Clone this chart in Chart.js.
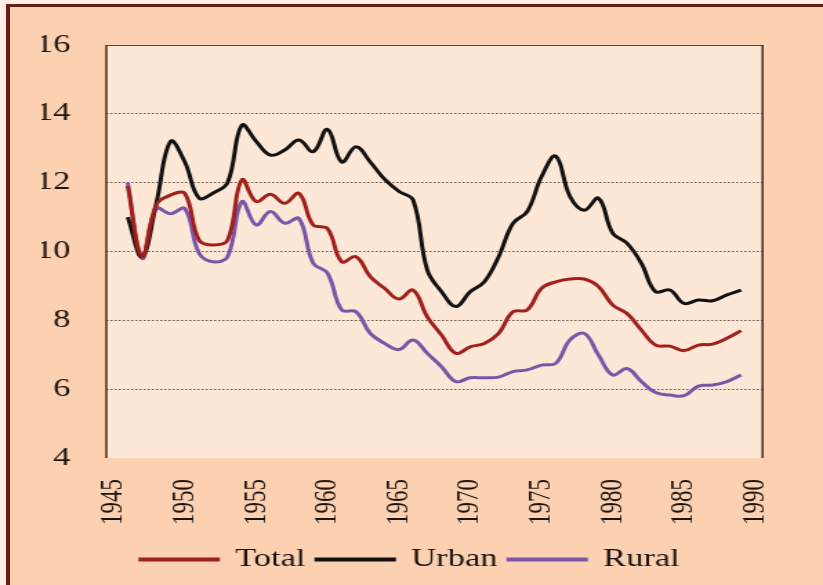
<!DOCTYPE html>
<html>
<head>
<meta charset="utf-8">
<script src="https://cdn.jsdelivr.net/npm/chart.js@4/dist/chart.umd.min.js"></script>
<style>
    body { margin: 0; background: #fdeee8; overflow: hidden; }
    #moldura {
        position: absolute; left: 6px; top: 4px; width: 830px; height: 600px;
        border-left: 4px solid #6b1d15; border-top: 3px solid #6b1d15;
        background: #fcd1b2;
    }
    /* the original picture is stretched sideways, so the chart is too */
    #caixa {
        position: absolute; left: 0; top: 0; width: 596px; height: 585px;
        transform: scaleX(1.3809); transform-origin: 0 0;
    }
</style>
</head>
<body>
<div id="moldura"></div>
<div id="caixa"><canvas id="graficoTaxas" width="596" height="585"></canvas></div>
<script>
const years = [1945, 1946, 1947, 1948, 1949, 1950, 1951, 1952, 1953, 1954,
    1955, 1956, 1957, 1958, 1959, 1960, 1961, 1962, 1963, 1964,
    1965, 1966, 1967, 1968, 1969, 1970, 1971, 1972, 1973, 1974,
    1975, 1976, 1977, 1978, 1979, 1980, 1981, 1982, 1983, 1984,
    1985, 1986, 1987, 1988, 1989, 1990];

const total = [null, 11.9, 9.85, 11.35, 11.64, 11.69, 10.33, 10.19, 10.33, 12.08,
    11.45, 11.66, 11.4, 11.69, 10.77, 10.67, 9.7, 9.85, 9.27, 8.93,
    8.62, 8.88, 8.1, 7.57, 7.04, 7.23, 7.33, 7.62, 8.25, 8.3,
    8.93, 9.12, 9.2, 9.2, 8.98, 8.44, 8.2, 7.72, 7.28, 7.25,
    7.12, 7.28, 7.31, 7.48, 7.7, null];

const urban = [null, 11.0, 9.85, 11.4, 13.2, 12.6, 11.55, 11.7, 12.0, 13.67,
    13.2, 12.8, 12.95, 13.24, 12.9, 13.55, 12.6, 13.04, 12.6, 12.1,
    11.75, 11.5, 9.46, 8.83, 8.4, 8.83, 9.12, 9.85, 10.82, 11.16,
    12.17, 12.77, 11.6, 11.2, 11.55, 10.53, 10.24, 9.66, 8.83, 8.88,
    8.49, 8.59, 8.57, 8.74, 8.88, null];

const rural = [null, 12.0, 9.8, 11.25, 11.1, 11.25, 9.95, 9.7, 9.85, 11.45,
    10.77, 11.16, 10.82, 10.96, 9.66, 9.37, 8.3, 8.25, 7.62, 7.33,
    7.15, 7.43, 7.04, 6.65, 6.22, 6.33, 6.33, 6.35, 6.51, 6.56,
    6.7, 6.75, 7.43, 7.62, 6.99, 6.41, 6.6, 6.22, 5.9, 5.83,
    5.81, 6.09, 6.12, 6.22, 6.41, null];

const yTicks = [4, 6, 8, 10, 12, 14, 16];

// plot background and the brown frame round it
const fundoPlot = {
    id: 'fundoPlot',
    beforeDraw(chart) {
        const { ctx, chartArea: a } = chart;
        ctx.save();
        ctx.fillStyle = '#fde8d8';
        ctx.fillRect(a.left, a.top, a.right - a.left, a.bottom - a.top);
        ctx.restore();
    },
    beforeDatasetsDraw(chart) {
        const { ctx, chartArea: a } = chart;
        ctx.save();
        ctx.strokeStyle = '#7a3a2c';
        ctx.lineWidth = 1;
        ctx.beginPath();
        ctx.moveTo(a.left, a.top + 0.5);
        ctx.lineTo(a.right, a.top + 0.5);
        ctx.stroke();
        ctx.strokeStyle = '#4e2418';
        ctx.lineWidth = 1.5;
        ctx.beginPath();
        ctx.moveTo(a.left, a.top);
        ctx.lineTo(a.left, a.bottom);
        ctx.moveTo(a.right, a.top);
        ctx.lineTo(a.right, a.bottom);
        ctx.stroke();
        ctx.restore();
    }
};

Chart.defaults.font.family = "'Liberation Serif', 'Times New Roman', serif";
Chart.defaults.color = '#1c1410';

function GraficoTaxas() {
    const ctx = document.getElementById('graficoTaxas').getContext('2d');
    new Chart(ctx, {
        type: 'line',
        data: {
            labels: years,
            datasets: [{
                label: 'Total',
                data: total,
                borderColor: '#a11f1a',
                backgroundColor: '#a11f1a',
                borderWidth: 3
            }, {
                label: 'Urban',
                data: urban,
                borderColor: '#111111',
                backgroundColor: '#111111',
                borderWidth: 3
            }, {
                label: 'Rural',
                data: rural,
                borderColor: '#7d55a8',
                backgroundColor: '#7d55a8',
                borderWidth: 3
            }]
        },
        options: {
            responsive: false,
            animation: false,
            tension: 0.4,
            pointRadius: 0,
            layout: {
                padding: { left: 30, right: 32, top: 45, bottom: 3 }
            },
            plugins: {
                tooltip: { enabled: false },
                legend: {
                    position: 'bottom',
                    labels: {
                        boxWidth: 56,
                        boxHeight: 1,
                        padding: 8,
                        font: { size: 25 }
                    }
                }
            },
            scales: {
                x: {
                    type: 'category',
                    offset: true,
                    grid: { display: false, drawTicks: false },
                    border: { display: false },
                    ticks: {
                        autoSkip: false,
                        minRotation: 90,
                        maxRotation: 90,
                        padding: 21,
                        font: { size: 23 },
                        callback: function(value, index) {
                            return years[index] % 5 === 0 ? years[index] : '';
                        }
                    },
                    afterFit: function(scale) { scale.height = 81; }
                },
                y: {
                    min: 4,
                    max: 16,
                    afterBuildTicks: function(scale) {
                        scale.ticks = yTicks.map(v => ({ value: v }));
                    },
                    grid: {
                        drawTicks: false,
                        lineWidth: 1,
                        color: function(c) {
                            return (c.tick.value === 4 || c.tick.value === 16) ? 'rgba(0,0,0,0)' : '#6e5242';
                        }
                    },
                    border: { display: false, dash: [1.5, 1.5] },
                    ticks: {
                        padding: 26,
                        font: { size: 25 }
                    },
                    afterFit: function(scale) { scale.width = 47; }
                }
            }
        },
        plugins: [fundoPlot]
    });
}

GraficoTaxas();
</script>
</body>
</html>
